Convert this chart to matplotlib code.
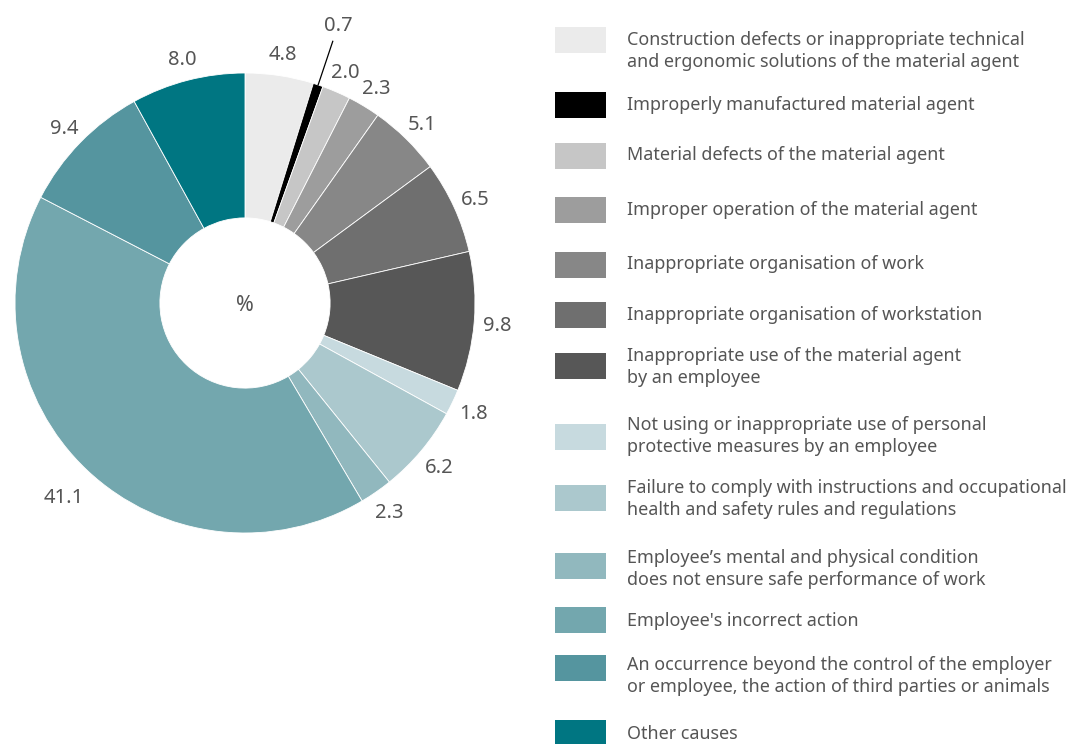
import numpy as np
import matplotlib.pyplot as plt
from matplotlib.patches import Rectangle

plt.rcParams['font.family'] = ['Noto Sans', 'DejaVu Sans']

causes = [
    'Construction defects or inappropriate technical\nand ergonomic solutions of the material agent',
    'Improperly manufactured material agent',
    'Material defects of the material agent',
    'Improper operation of the material agent',
    'Inappropriate organisation of work',
    'Inappropriate organisation of workstation',
    'Inappropriate use of the material agent\nby an employee',
    'Not using or inappropriate use of personal\nprotective measures by an employee',
    'Failure to comply with instructions and occupational\nhealth and safety rules and regulations',
    'Employee\u2019s mental and physical condition\ndoes not ensure safe performance of work',
    "Employee's incorrect action",
    'An occurrence beyond the control of the employer\nor employee, the action of third parties or animals',
    'Other causes',
]
shares = [4.8, 0.7, 2.0, 2.3, 5.1, 6.5, 9.8, 1.8, 6.2, 2.3, 41.1, 9.4, 8.0]
colors = ['#ebebeb', '#000000', '#c6c6c6', '#9d9d9d', '#878787', '#6f6f6f', '#575757',
          '#c7dadf', '#abc8cd', '#91b8be', '#73a7ae', '#55959f', '#007682']

txt = '#555555'
W, H = 1082, 744
fig = plt.figure(figsize=(W / 100, H / 100), dpi=100)

# pie centre (245, 303) px, radius 230 px
cx, cy, r = 245, 303, 230
ax = fig.add_axes([(cx - r) / W, (H - cy - r) / H, 2 * r / W, 2 * r / H])
wedges, _ = ax.pie(shares, colors=colors, startangle=90, counterclock=False,
                   radius=1.0, wedgeprops=dict(width=0.63, edgecolor='white', linewidth=0.6))
ax.set_xlim(-1, 1)
ax.set_ylim(-1, 1)
ax.set_aspect('equal')
ax.axis('off')
ax.text(0, -0.01, '%', ha='center', va='center', fontsize=15.5, color=txt)

for w, v in zip(wedges, shares):
    ang = np.deg2rad((w.theta1 + w.theta2) / 2)
    if v < 1:
        ax.plot([np.cos(ang) * 1.0, np.cos(ang) * 1.2], [np.sin(ang) * 1.0, np.sin(ang) * 1.2],
                color='black', lw=0.9, clip_on=False)
        d = 1.28
    elif v > 30:
        d = 1.15
    else:
        d = 1.1
    ax.text(np.cos(ang) * d, np.sin(ang) * d - 0.01, f'{v:.1f}', ha='center', va='center',
            fontsize=14.5, color=txt)

# legend drawn by hand (uneven row spacing in the original)
patch_y = [40, 105, 156, 210, 265, 315, 366, 437, 498, 566, 620, 668, 733]
text_y = [51, 105, 155, 210, 264, 315, 367, 436, 499, 569, 621, 676, 734]
for c, lab, py, ty in zip(colors, causes, patch_y, text_y):
    fig.add_artist(Rectangle((555 / W, (H - py - 13) / H), 51 / W, 26 / H,
                             transform=fig.transFigure, facecolor=c, edgecolor='none'))
    fig.text(627 / W, (H - ty) / H, lab, ha='left', va='center', fontsize=12.9,
             color=txt, linespacing=1.3)

fig.savefig('out.png', dpi=100)
